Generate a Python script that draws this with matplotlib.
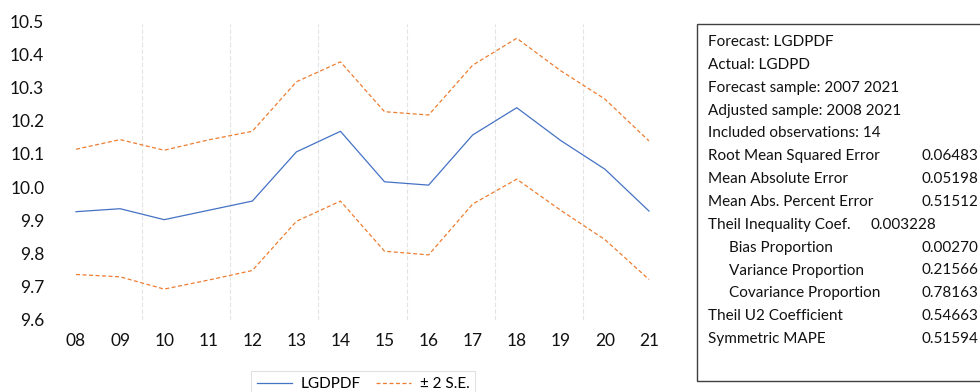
import matplotlib
matplotlib.use("Agg")
import matplotlib.pyplot as plt
from matplotlib.lines import Line2D
from matplotlib.patches import Rectangle

plt.rcParams['font.family'] = ['Lato', 'DejaVu Sans']

years = ["08", "09", "10", "11", "12", "13", "14", "15", "16", "17", "18", "19", "20", "21"]
forecast = [9.926, 9.935, 9.902, 9.930, 9.958, 10.106, 10.168, 10.016, 10.006, 10.157, 10.239, 10.140, 10.054, 9.928]
upper = [10.114, 10.143, 10.111, 10.142, 10.168, 10.317, 10.377, 10.227, 10.217, 10.367, 10.448, 10.350, 10.265, 10.139]
lower = [9.737, 9.730, 9.693, 9.720, 9.749, 9.897, 9.958, 9.807, 9.796, 9.949, 10.024, 9.930, 9.842, 9.722]

stat_labels = ["Forecast: LGDPDF", "Actual: LGDPD", "Forecast sample: 2007 2021",
               "Adjusted sample: 2008 2021", "Included observations: 14",
               "Root Mean Squared Error", "Mean Absolute Error", "Mean Abs. Percent Error",
               "Theil Inequality Coef.", "Bias Proportion", "Variance Proportion",
               "Covariance Proportion", "Theil U2 Coefficient", "Symmetric MAPE"]
stat_values = ["", "", "", "", "", "0.06483", "0.05198", "0.51512", "0.003228",
               "0.00270", "0.21566", "0.78163", "0.54663", "0.51594"]
stat_indent = [0, 0, 0, 0, 0, 0, 0, 0, 0, 1, 1, 1, 0, 0]

W, H = 980, 392
fig = plt.figure(figsize=(W / 100, H / 100), dpi=100)
# axes: x from 54 to 671 px, y from 21 to 320 px
ax = fig.add_axes([54 / W, 1 - 320 / H, (671 - 54) / W, (320 - 21) / H])

x = list(range(len(years)))
blue = "#4472C4"
orange = "#ED7D31"
dash = (0, (3.2, 2.0))
ax.plot(x, forecast, color=blue, lw=0.9, label="LGDPDF")
ax.plot(x, upper, color=orange, lw=0.9, ls=dash, label="± 2 S.E.")
ax.plot(x, lower, color=orange, lw=0.9, ls=dash)

ax.set_xlim(-0.5, len(years) - 0.5)
ax.set_ylim(9.6, 10.5)
ax.set_yticks([9.6 + 0.1 * i for i in range(10)])
ax.set_yticklabels([f"{9.6 + 0.1 * i:.1f}" for i in range(10)])
ax.set_xticks(x)
ax.set_xticklabels(years)
for gx in [1.5, 3.5, 5.5, 7.5, 9.5, 11.5]:
    ax.axvline(gx, ymax=0.99, color="#E3E3E3", lw=0.8, ls=(0, (4, 2)), zorder=0)
for s in ax.spines.values():
    s.set_visible(False)
ax.tick_params(axis='both', length=0, labelsize=12.5, colors="#111111")
ax.tick_params(axis='y', pad=7)
ax.tick_params(axis='x', pad=9)

# legend
handles = [Line2D([], [], color=blue, lw=0.9),
           Line2D([], [], color=orange, lw=0.9, ls=dash)]
leg = fig.legend(handles, ["LGDPDF", "± 2 S.E."], loc="upper left",
                 bbox_to_anchor=(251 / W, 1 - 371 / H), ncol=2, frameon=True,
                 fancybox=False, edgecolor="#D9D9D9", fontsize=11,
                 handlelength=2.3, handletextpad=0.55, columnspacing=1.0,
                 borderpad=0.4, borderaxespad=0)
leg.get_frame().set_linewidth(0.8)

# statistics box
fig.patches.append(Rectangle((697 / W, 1 - 381 / H), 300 / W, (381 - 24) / H,
                             transform=fig.transFigure, fill=False,
                             edgecolor="#404040", lw=1.0))
y0, dy = 42, 22.85
for i, (lab, val, ind) in enumerate(zip(stat_labels, stat_values, stat_indent)):
    yy = 1 - (y0 + dy * i) / H
    fig.text((708 + 21 * ind) / W, yy, lab, fontsize=11, va="center", ha="left", color="#111111")
    if val:
        if lab.startswith("Theil Inequality"):
            fig.text(870 / W, yy, val, fontsize=11, va="center", ha="left", color="#111111")
        else:
            fig.text(978 / W, yy, val, fontsize=11, va="center", ha="right", color="#111111")

fig.savefig("out.png", dpi=100)
